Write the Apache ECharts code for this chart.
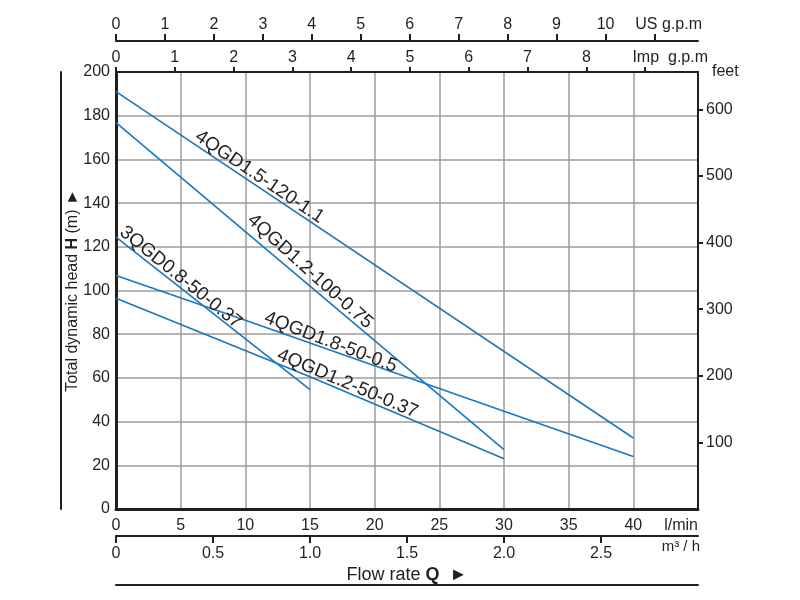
<!DOCTYPE html>
<html>
<head>
<meta charset="utf-8">
<script src="https://cdn.jsdelivr.net/npm/echarts@6/dist/echarts.min.js"></script>
<style>
  html, body { margin: 0; padding: 0; background: #fff; }
  #chart { width: 800px; height: 600px; }
</style>
</head>
<body>
<div id="chart"></div>
<script>
// pump curves, flow in l/min, head in m
const pumpModels = ['4QGD1.5-120-1.1', '4QGD1.2-100-0.75', '3QGD0.8-50-0.37', '4QGD1.8-50-0.5', '4QGD1.2-50-0.37'];
const flowLmin = [[0, 40], [0, 30], [0, 15], [0, 10, 30, 40], [0, 15, 30]];
const headM = [[191, 32.5], [176.8, 27.2], [124.4, 54.6], [106.9, 86.4, 44.7, 24], [96.5, 60.5, 23]];

// tick labels on every scale
const lminLabels = [0, 5, 10, 15, 20, 25, 30, 35, 40];
const m3hLabels = [0, 0.5, 1, 1.5, 2, 2.5];
const usGpmTicks = [0, 1, 2, 3, 4, 5, 6, 7, 8, 9, 10, 11];
const usGpmLabels = [0, 1, 2, 3, 4, 5, 6, 7, 8, 9, 10];
const impGpmTicks = [0, 1, 2, 3, 4, 5, 6, 7, 8, 9];
const impGpmLabels = [0, 1, 2, 3, 4, 5, 6, 7, 8];
const headLabels = [0, 20, 40, 60, 80, 100, 120, 140, 160, 180, 200];
const feetLabels = [100, 200, 300, 400, 500, 600];

const FLOW_MAX = 45;
const HEAD_MAX = 200;
const LMIN_PER_M3H = 15; // as printed on the sheet: 1.0 sits under 15 l/min
const LMIN_PER_USGPM = 3.785;
const LMIN_PER_IMPGPM = 4.546;
const M_PER_FT = 0.3048;

// where each curve name sits (data units) and its slant
const curveLabels = [
  { at: [11.1, 152.0], rot: -34 },
  { at: [15.0, 108.7], rot: -42 },
  { at: [5.0, 106.0], rot: -39 },
  { at: [16.6, 76.3], rot: -21 },
  { at: [17.9, 57.4], rot: -23 }
];

const ink = '#231f20';
const blue = '#1b77bd';
const font = 'Liberation Sans, Arial, sans-serif';

function near(list, v) {
  return list.some(function (t) { return Math.abs(Number(t) - v) < 1e-6; });
}

const chart = echarts.init(document.getElementById('chart'));

chart.setOption({
  animation: false,
  backgroundColor: '#fff',
  textStyle: { fontFamily: font, color: ink },
  grid: { left: 116, right: 102, top: 72, bottom: 91, containLabel: false, outerBoundsMode: 'none' },
  xAxis: [
    { // l/min, main scale
      type: 'value', position: 'bottom', min: 0, max: FLOW_MAX, interval: 5,
      axisLine: { onZero: false, lineStyle: { color: ink, width: 3 } },
      axisTick: { show: false },
      axisLabel: { margin: 9, fontSize: 16, color: ink, fontFamily: font,
        formatter: function (v) { return near(lminLabels, v) ? String(v) : ''; } },
      splitLine: { show: true, lineStyle: { color: '#9c9c9c', width: 1.5 } },
      name: 'l/min', nameLocation: 'end', nameGap: 0, nameMoveOverlap: false,
      nameTextStyle: { fontSize: 16, color: ink, align: 'right', verticalAlign: 'top', padding: [9, 0, 0, 0], fontFamily: font }
    },
    { // m3/h
      type: 'value', position: 'bottom', offset: 27, min: 0, max: FLOW_MAX / LMIN_PER_M3H, interval: 0.5,
      axisLine: { onZero: false, lineStyle: { color: ink, width: 2 } },
      axisTick: { show: true, length: 7, customValues: m3hLabels, lineStyle: { color: ink, width: 2 } },
      axisLabel: { margin: 10, fontSize: 16, color: ink, fontFamily: font, customValues: m3hLabels,
        formatter: function (v) { return near(m3hLabels, v) ? (v === 0 ? '0' : v.toFixed(1)) : ''; } },
      splitLine: { show: false },
      name: 'm³ / h', nameLocation: 'end', nameGap: 2, nameMoveOverlap: false,
      nameTextStyle: { fontSize: 15, color: ink, align: 'right', verticalAlign: 'top', padding: [3, 0, 0, 0], fontFamily: font }
    },
    { // bottom rule with axis title
      type: 'value', position: 'bottom', offset: 76, min: 0, max: FLOW_MAX,
      axisLine: { onZero: false, lineStyle: { color: ink, width: 2 } },
      axisTick: { show: false }, axisLabel: { show: false }, splitLine: { show: false },
      name: '{a|Flow rate }{b|Q}{a|  ►}', nameLocation: 'middle', nameGap: -10, nameMoveOverlap: false,
      nameTextStyle: { verticalAlign: 'middle', rich: {
        a: { fontSize: 18, color: ink, fontFamily: font },
        b: { fontSize: 18, color: ink, fontWeight: 'bold', fontFamily: font }
      } }
    },
    { // Imp g.p.m, top of grid
      type: 'value', position: 'top', min: 0, max: FLOW_MAX / LMIN_PER_IMPGPM, interval: 1,
      axisLine: { onZero: false, lineStyle: { color: ink, width: 2 } },
      axisTick: { show: true, length: 5, customValues: impGpmTicks, lineStyle: { color: ink, width: 2 } },
      axisLabel: { margin: 6, fontSize: 16, color: ink, fontFamily: font, customValues: impGpmLabels,
        formatter: function (v) { return near(impGpmLabels, v) ? String(v) : ''; } },
      splitLine: { show: false },
      name: 'Imp  g.p.m', nameLocation: 'end', nameGap: 10, nameMoveOverlap: false,
      nameTextStyle: { fontSize: 16, color: ink, align: 'right', verticalAlign: 'bottom', padding: [0, 0, 6, 0], fontFamily: font }
    },
    { // US g.p.m
      type: 'value', position: 'top', offset: 31, min: 0, max: FLOW_MAX / LMIN_PER_USGPM, interval: 1,
      axisLine: { onZero: false, lineStyle: { color: ink, width: 2 } },
      axisTick: { show: true, length: 7, customValues: usGpmTicks, lineStyle: { color: ink, width: 2 } },
      axisLabel: { margin: 8, fontSize: 16, color: ink, fontFamily: font, customValues: usGpmLabels,
        formatter: function (v) { return near(usGpmLabels, v) ? String(v) : ''; } },
      splitLine: { show: false },
      name: 'US g.p.m', nameLocation: 'end', nameGap: 4, nameMoveOverlap: false,
      nameTextStyle: { fontSize: 16, color: ink, align: 'right', verticalAlign: 'bottom', padding: [0, 0, 8, 0], fontFamily: font }
    }
  ],
  yAxis: [
    { // head in m
      type: 'value', position: 'left', min: 0, max: HEAD_MAX, interval: 20,
      axisLine: { show: true, onZero: false, lineStyle: { color: ink, width: 3 } },
      axisTick: { show: false },
      axisLabel: { margin: 6, fontSize: 16, color: ink, fontFamily: font,
        formatter: function (v) { return near(headLabels, v) ? String(v) : ''; } },
      splitLine: { show: true, lineStyle: { color: '#9c9c9c', width: 1.5 } },
      name: '{a|Total dynamic head }{b|H}{a| (m) ►}', nameLocation: 'middle', nameGap: 35, nameMoveOverlap: false,
      nameTextStyle: { rich: {
        a: { fontSize: 16, color: ink, fontFamily: font },
        b: { fontSize: 16, color: ink, fontWeight: 'bold', fontFamily: font }
      } }
    },
    { // feet
      type: 'value', position: 'right', min: 0, max: HEAD_MAX / M_PER_FT, interval: 100,
      axisLine: { show: true, onZero: false, lineStyle: { color: ink, width: 2 } },
      axisTick: { show: true, length: 5, customValues: feetLabels, lineStyle: { color: ink, width: 2 } },
      axisLabel: { margin: 8, fontSize: 16, color: ink, fontFamily: font, customValues: feetLabels,
        formatter: function (v) { return near(feetLabels, v) ? String(v) : ''; } },
      splitLine: { show: false },
      name: 'feet', nameLocation: 'end', nameGap: 0, nameMoveOverlap: false,
      nameTextStyle: { fontSize: 16, color: ink, align: 'left', verticalAlign: 'middle', padding: [0, 0, 0, 14], fontFamily: font }
    },
    { // left rule beside the title
      type: 'value', position: 'left', offset: 55, min: 0, max: HEAD_MAX,
      axisLine: { show: true, onZero: false, lineStyle: { color: ink, width: 2 } },
      axisTick: { show: false }, axisLabel: { show: false }, splitLine: { show: false }
    }
  ],
  series: pumpModels.map(function (name, i) {
    return {
      name: name,
      type: 'line',
      xAxisIndex: 0,
      yAxisIndex: 0,
      symbol: 'none',
      lineStyle: { color: blue, width: 1.6 },
      data: flowLmin[i].map(function (q, k) { return [q, headM[i][k]]; }),
      markPoint: {
        symbol: 'circle',
        symbolSize: 0,
        itemStyle: { color: 'transparent' },
        silent: true,
        data: [{
          coord: curveLabels[i].at,
          label: {
            show: true, position: 'inside', formatter: name, rotate: curveLabels[i].rot,
            fontSize: 19, color: ink, fontFamily: font
          }
        }]
      }
    };
  })
});
</script>
</body>
</html>
